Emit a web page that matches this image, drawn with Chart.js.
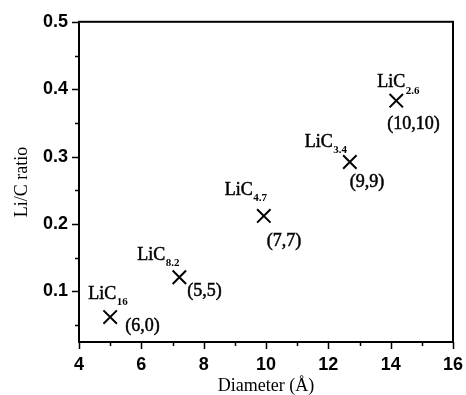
<!DOCTYPE html>
<html>
<head>
<meta charset="utf-8">
<script src="https://cdn.jsdelivr.net/npm/chart.js@4.4.0/dist/chart.umd.min.js"></script>
<style>
  html, body { margin: 0; padding: 0; background: #fff; }
</style>
</head>
<body>
<canvas id="liChart" width="466" height="395"></canvas>
<script>
// values
const diameters = [5.0, 7.22, 9.93, 12.69, 14.18];
const liRatios = [0.062, 0.121, 0.212, 0.292, 0.383];
const formulaSubs = ["16", "8.2", "4.7", "3.4", "2.6"];
const tubeIndices = ["(6,0)", "(5,5)", "(7,7)", "(9,9)", "(10,10)"];

// where the two labels sit around each cross (px, relative to the point)
const formulaOffsets = [[-22, -23], [-42, -22], [-39, -26], [-45, -20], [-19, -18]];
const indexOffsets = [[15, 9], [8, 14], [3, 25], [0, 20], [-9, 24]];

const isMajorY = v => Math.round(v * 100) % 10 === 0;
const isMajorX = v => Math.round(v) % 2 === 0;

// text a little heavier, like the scanned original
function heavyText(ctx, s, x, y) {
  ctx.fillText(s, x, y);
  ctx.strokeText(s, x, y);
}

const frameAndLabels = {
  id: "frameAndLabels",
  afterDatasetsDraw(chart) {
    const ctx = chart.ctx;
    const pts = chart.getDatasetMeta(0).data;
    ctx.save();
    ctx.fillStyle = "#000";
    ctx.strokeStyle = "#000";
    ctx.lineWidth = 0.5;
    ctx.textBaseline = "middle";
    ctx.textAlign = "left";
    pts.forEach((pt, i) => {
      const [fx, fy] = formulaOffsets[i];
      ctx.font = '18px "Liberation Serif"';
      heavyText(ctx, "LiC", pt.x + fx, pt.y + fy);
      const w = ctx.measureText("LiC").width;
      ctx.font = 'bold 11px "Liberation Serif"';
      ctx.fillText(formulaSubs[i], pt.x + fx + w + 0.5, pt.y + fy + 8);
      const [ix, iy] = indexOffsets[i];
      ctx.font = '18px "Liberation Serif"';
      heavyText(ctx, tubeIndices[i], pt.x + ix, pt.y + iy);
    });
    ctx.restore();
  },
  afterDraw(chart) {
    const ctx = chart.ctx;
    const a = chart.chartArea;
    const xs = chart.scales.x, ys = chart.scales.y;
    ctx.save();
    ctx.strokeStyle = "#000";
    ctx.lineWidth = 2;
    ctx.strokeRect(a.left, a.top, a.right - a.left, a.bottom - a.top);
    ctx.lineWidth = 1.5;
    ctx.beginPath();
    ys.ticks.forEach(t => {
      const py = Math.round(ys.getPixelForValue(t.value)) + 0.5;
      const len = isMajorY(t.value) ? 7 : 4;
      ctx.moveTo(a.left - len, py);
      ctx.lineTo(a.left, py);
    });
    xs.ticks.forEach(t => {
      const px = Math.round(xs.getPixelForValue(t.value)) + 0.5;
      const len = isMajorX(t.value) ? 7 : 4;
      ctx.moveTo(px, a.bottom);
      ctx.lineTo(px, a.bottom + len);
    });
    ctx.stroke();
    ctx.restore();
  }
};

const tickFont = { family: '"Liberation Sans", Arial, sans-serif', size: 18, weight: "bold" };
const titleFont = { family: '"Liberation Serif", "Times New Roman", serif', size: 18, lineHeight: 1 };

new Chart(document.getElementById("liChart"), {
  type: "scatter",
  data: {
    datasets: [{
      data: diameters.map((d, i) => ({ x: d, y: liRatios[i] })),
      pointStyle: "crossRot",
      pointRadius: 9.5,
      borderColor: "#000",
      borderWidth: 2,
      backgroundColor: "#000"
    }]
  },
  options: {
    responsive: false,
    animation: false,
    layout: { padding: { top: 21, right: 13, left: 0, bottom: 0 } },
    plugins: { legend: { display: false }, tooltip: { enabled: false } },
    scales: {
      x: {
        type: "linear",
        min: 4,
        max: 16,
        grid: { display: false, drawTicks: false },
        border: { display: false },
        ticks: {
          stepSize: 1,
          autoSkip: false,
          maxRotation: 0,
          padding: 12,
          color: "#000",
          font: tickFont,
          callback: v => isMajorX(v) ? String(v) : ""
        },
        title: { display: true, text: "Diameter (Å)", color: "#000", font: titleFont, padding: { top: 0, bottom: 0 } },
        afterFit: s => { s.height = 53; s.paddingRight = 0; }
      },
      y: {
        min: 0.025,
        max: 0.5,
        grid: { display: false, drawTicks: false },
        border: { display: false },
        ticks: {
          stepSize: 0.05,
          includeBounds: false,
          autoSkip: false,
          padding: 11,
          color: "#000",
          font: tickFont,
          callback: v => isMajorY(v) ? v.toFixed(1) : ""
        },
        title: { display: true, text: "Li/C ratio", color: "#000", font: titleFont, padding: { top: 13, bottom: 0 } },
        afterFit: s => { s.width = 79; }
      }
    }
  },
  plugins: [frameAndLabels]
});
</script>
</body>
</html>
